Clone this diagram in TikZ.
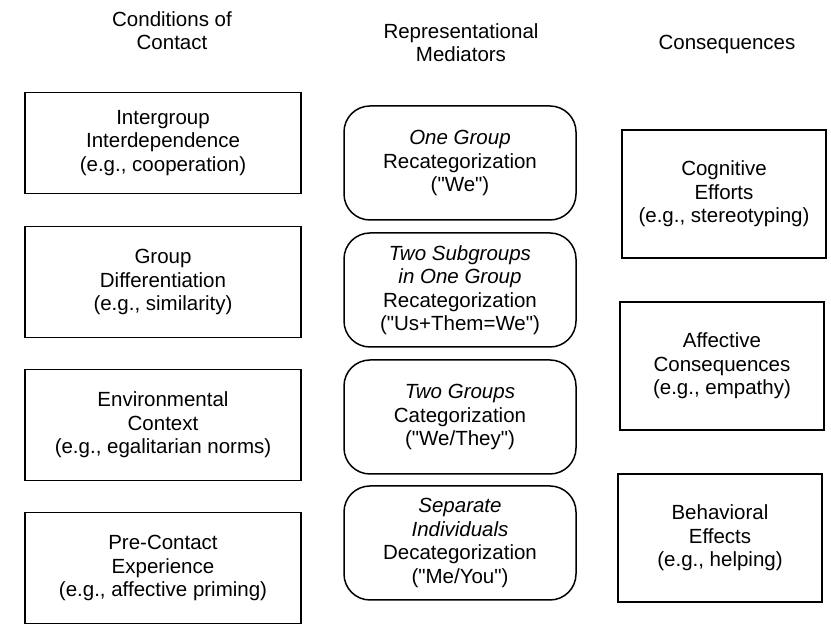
\documentclass[tikz,border=0pt]{standalone}
\usepackage{fontspec}
\setmainfont{Liberation Sans}
\usetikzlibrary{positioning}
\newcommand{\qt}{\textquotedbl}
\tikzset{
    basebox/.style={draw, line width=1.5pt, align=center, inner sep=0pt, font=\fontsize{20.5}{23.5}\selectfont},
    condnode/.style={basebox, minimum width=276pt, minimum height=111pt},
    mednode/.style={basebox, rounded corners=26pt, minimum width=232pt, minimum height=114pt},
    consnode/.style={basebox, minimum width=204pt, minimum height=128pt},
    headnode/.style={align=center, font=\fontsize{20.5}{23}\selectfont}
}

\begin{document}
\begin{tikzpicture}[x=1pt, y=1pt]
    \useasboundingbox (0,0) rectangle (831,629);

    % column headings
    \node[headnode] (hcond) at (172,598) {Conditions of\\Contact};
    \node[headnode] (hmed) at (461,586) {Representational\\Mediators};
    \node[headnode] (hcons) at (727,585) {Consequences};

    % conditions of contact
    \node[condnode, minimum height=101pt] (cond1) at (163,486) {Intergroup\\Interdependence\\(e.g., cooperation)};
    \node[condnode] (cond2) at (163,347) {Group\\Differentiation\\(e.g., similarity)};
    \node[condnode] (cond3) at (163,204) {Environmental\\Context\\(e.g., egalitarian norms)};
    \node[condnode] (cond4) at (163,61) {Pre-Contact\\Experience\\(e.g., affective priming)};

    % representational mediators
    \node[mednode] (med1) at (460,466) {\textit{One Group}\\Recategorization\\(\qt We\qt)};
    \node[mednode] (med2) at (460,339) {\textit{Two Subgroups}\\\textit{in One Group}\\Recategorization\\(\qt Us+Them=We\qt)};
    \node[mednode] (med3) at (460,212) {\textit{Two Groups}\\Categorization\\(\qt We/They\qt)};
    \node[mednode] (med4) at (460,86) {\textit{Separate}\\\textit{Individuals}\\Decategorization\\(\qt Me/You\qt)};

    % consequences
    \node[consnode] (cons1) at (724,435) {Cognitive\\Efforts\\(e.g., stereotyping)};
    \node[consnode] (cons2) at (722,263) {Affective\\Consequences\\(e.g., empathy)};
    \node[consnode] (cons3) at (720,91) {Behavioral\\Effects\\(e.g., helping)};
\end{tikzpicture}
\end{document}
